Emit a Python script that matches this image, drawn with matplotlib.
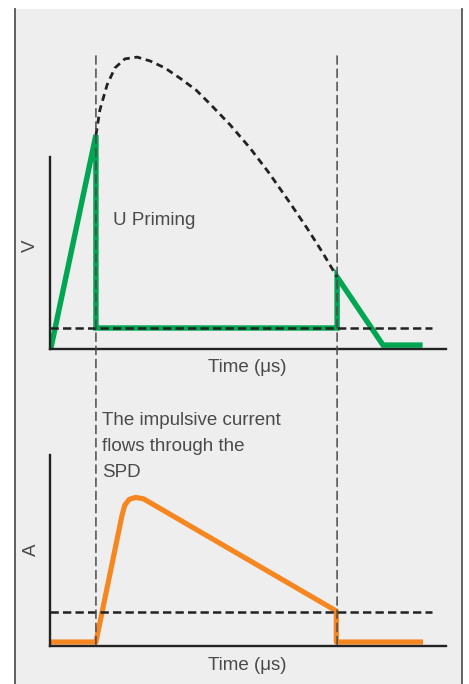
"""
SPD の電圧・電流波形（U Priming / impulsive current）
"""
import matplotlib.pyplot as plt
from matplotlib.patches import Rectangle, ConnectionPatch
from matplotlib.lines import Line2D

plt.rcParams["font.family"] = ["Liberation Sans", "DejaVu Sans"]
plt.rcParams["lines.scale_dashes"] = False

# --- data (time in arbitrary units 0..100) ---
t_switch = [11.6, 72.5]          # vertical guide lines
v_residual = 7.0                 # top dashed level
a_residual = 17.0                # bottom dashed level
dash_end = 96.5

# green: voltage across SPD
v_t = [0.3, 11.6, 11.6, 72.5, 72.5, 84.1, 93.4]
v_v = [0.8, 71.3, 7.0, 7.0, 24.0, 1.3, 1.3]

# black dashed: prospective impulse voltage
imp_t = [11.6, 12.6, 14.4, 16.4, 18.9, 22.0, 25.3, 29.0, 32.8, 36.9,
         40.7, 45.5, 50.5, 55.3, 60.6, 65.2, 68.9, 72.5]
imp_v = [71.3, 79.7, 88.0, 93.7, 96.7, 97.3, 96.0, 93.7, 90.3, 86.3,
         81.3, 74.7, 67.0, 58.7, 48.7, 39.7, 32.0, 24.0]

# orange: current through SPD
a_t = [0.0, 11.6, 18.2, 18.9, 20.0, 21.6, 23.6, 72.3, 72.3, 94.2]
a_v = [2.0, 2.0, 65.5, 70.5, 73.3, 74.3, 73.6, 17.5, 2.0, 2.0]

GREEN = "#00a651"
ORANGE = "#f6861f"
TEXT = "#4a4a4a"
W, H = 469, 684

fig = plt.figure(figsize=(W / 100, H / 100), dpi=100)
fig.patch.set_facecolor("white")
fig.add_artist(Rectangle((15 / W, 0), (462 - 15) / W, (H - 9) / H,
                         transform=fig.transFigure, facecolor="#eeeeee",
                         edgecolor="none", zorder=0))
for xb in (15, 462):
    fig.add_artist(Line2D([xb / W, xb / W], [0, (H - 9) / H],
                          transform=fig.transFigure, color="#555555", lw=1.3))

ax_v = fig.add_axes([50 / W, (H - 349) / H, 396 / W, 300 / H])
ax_a = fig.add_axes([50 / W, (H - 646) / H, 396 / W, 200 / H])

for ax in (ax_v, ax_a):
    ax.set_xlim(0, 100)
    ax.set_ylim(0, 100)
    ax.patch.set_visible(False)
    ax.set_xticks([])
    ax.set_yticks([])
    for s in ("top", "right"):
        ax.spines[s].set_visible(False)
    for s in ("left", "bottom"):
        ax.spines[s].set_linewidth(1.7)
        ax.spines[s].set_color("#222222")

ax_v.spines["left"].set_bounds(0, 64)
ax_a.spines["left"].set_bounds(0, 95.5)

# (上) 電圧
ax_v.plot(v_t, v_v, color=GREEN, lw=3.9, solid_joinstyle="miter", zorder=2)
ax_v.plot(imp_t, imp_v, color="#222222", lw=2.0, dashes=(5.0, 3.4), zorder=3)
ax_v.plot([0, dash_end], [v_residual] * 2, color="#222222", lw=1.8,
          dashes=(6.0, 3.0), zorder=3)
ax_v.text(15.9, 42.7, "U Priming", fontsize=13.5, color=TEXT, va="center")
ax_v.text(49.7, -6.3, "Time (μs)", fontsize=13.5, color=TEXT,
          ha="center", va="center")
ax_v.text(-5.0, 34.3, "V", fontsize=13.5, color=TEXT, rotation=90,
          ha="center", va="center")

# (下) 電流
ax_a.plot(a_t, a_v, color=ORANGE, lw=3.7, solid_joinstyle="round",
          solid_capstyle="butt", zorder=2)
ax_a.plot([0, dash_end], [a_residual] * 2, color="#222222", lw=1.8,
          dashes=(6.0, 3.0), zorder=3)
ax_a.text(49.7, -9.5, "Time (μs)", fontsize=13.5, color=TEXT,
          ha="center", va="center")
ax_a.text(-4.8, 48, "A", fontsize=13.5, color=TEXT, rotation=90,
          ha="center", va="center")
ax_a.text(13.1, 117, "The impulsive current\nflows through the\nSPD",
          fontsize=13.5, color=TEXT, va="top", linespacing=1.68)

# 上下をつなぐ縦の破線
for t in t_switch:
    con = ConnectionPatch(xyA=(t, 97.7), coordsA=ax_v.transData,
                          xyB=(t, 0), coordsB=ax_a.transData,
                          color="#4a4a4a", lw=1.1, linestyle=(0, (6, 3.5)),
                          zorder=4)
    fig.add_artist(con)

fig.savefig("out.png", dpi=100)
